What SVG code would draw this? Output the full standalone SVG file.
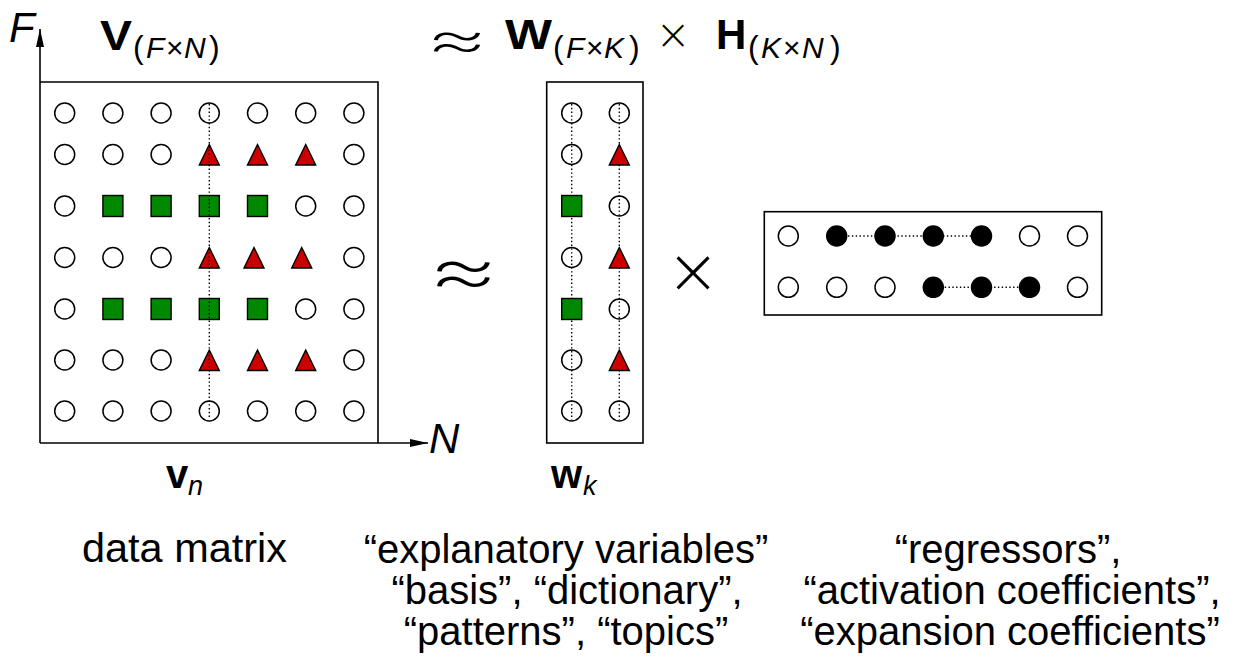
<svg xmlns="http://www.w3.org/2000/svg" xmlns:xlink="http://www.w3.org/1999/xlink" width="1241" height="659" viewBox="0 0 1241 659">
<style>
  .frame { fill: none; stroke: #000; stroke-width: 1.6; }
  .axis { fill: none; stroke: #000; stroke-width: 1.6; }
  .dot { fill: none; stroke: #000; stroke-width: 1.4; stroke-dasharray: 1.4 2.4; }
  .oc { fill: none; stroke: #000; stroke-width: 1.5; }
  .fc { fill: #000; stroke: #000; stroke-width: 1.5; }
  .sq { fill: #008800; stroke: #000; stroke-width: 1.4; }
  .tr { fill: #cc0000; stroke: #000; stroke-width: 1.4; stroke-linejoin: miter; }
  .t { font-family: "Liberation Sans", Arial, sans-serif; fill: #000; }
  .big { font-size: 40px; }
  .bold { font-weight: bold; font-size: 42px; }
  .sub { font-size: 30px; }
  .par { font-size: 32px; }
  .it { font-style: italic; }
  .sym { font-family: "DejaVu Sans ExtraLight", "DejaVu Sans Light", "DejaVu Sans", sans-serif; font-weight: 200; fill: #000; }
  .approx { font-family: Inter, Roboto, "Open Sans", "Liberation Sans", sans-serif; font-weight: 200; fill: #000; }
</style>
<defs>
  <circle id="c" r="10" class="oc"/>
  <circle id="f" r="10" class="fc"/>
  <rect id="s" x="-10" y="-10.5" width="20" height="21" class="sq"/>
  <polygon id="t" points="0,-10 10,10.5 -10,10.5" class="tr"/>
  <marker id="ah" viewBox="0 0 18 8" refX="18" refY="4" markerWidth="18" markerHeight="8" markerUnits="userSpaceOnUse" orient="auto">
    <path d="M0,0 L18,4 L0,8 Z" fill="#000"/>
  </marker>
</defs>

<g id="connectors">
  <line class="axis" x1="40" y1="443" x2="40" y2="29" marker-end="url(#ah)"/>
  <line class="axis" x1="40" y1="443" x2="428" y2="443" marker-end="url(#ah)"/>
</g>

<g id="matrix-V">
  <polyline class="frame" points="40,82 378,82 378,443"/>
  <use xlink:href="#c" x="64.7" y="113"/><use xlink:href="#c" x="112.9" y="113"/><use xlink:href="#c" x="161.1" y="113"/><use xlink:href="#c" x="209.3" y="113"/><use xlink:href="#c" x="257.5" y="113"/><use xlink:href="#c" x="305.7" y="113"/><use xlink:href="#c" x="353.9" y="113"/>
  <use xlink:href="#c" x="64.7" y="154.5"/><use xlink:href="#c" x="112.9" y="154.5"/><use xlink:href="#c" x="161.1" y="154.5"/><use xlink:href="#t" x="209.3" y="154.5"/><use xlink:href="#t" x="257.5" y="154.5"/><use xlink:href="#t" x="305.7" y="154.5"/><use xlink:href="#c" x="353.9" y="154.5"/>
  <use xlink:href="#c" x="64.7" y="206"/><use xlink:href="#s" x="112.9" y="206"/><use xlink:href="#s" x="161.1" y="206"/><use xlink:href="#s" x="209.3" y="206"/><use xlink:href="#s" x="257.5" y="206"/><use xlink:href="#c" x="305.7" y="206"/><use xlink:href="#c" x="353.9" y="206"/>
  <use xlink:href="#c" x="64.7" y="257.5"/><use xlink:href="#c" x="112.9" y="257.5"/><use xlink:href="#c" x="161.1" y="257.5"/><use xlink:href="#t" x="209.3" y="257.5"/><use xlink:href="#t" x="254" y="257.5"/><use xlink:href="#t" x="301.7" y="257.5"/><use xlink:href="#c" x="353.9" y="257.5"/>
  <use xlink:href="#c" x="64.7" y="309"/><use xlink:href="#s" x="112.9" y="309"/><use xlink:href="#s" x="161.1" y="309"/><use xlink:href="#s" x="209.3" y="309"/><use xlink:href="#s" x="257.5" y="309"/><use xlink:href="#c" x="305.7" y="309"/><use xlink:href="#c" x="353.9" y="309"/>
  <use xlink:href="#c" x="64.7" y="360"/><use xlink:href="#c" x="112.9" y="360"/><use xlink:href="#c" x="161.1" y="360"/><use xlink:href="#t" x="209.3" y="360"/><use xlink:href="#t" x="257.5" y="360"/><use xlink:href="#t" x="305.7" y="360"/><use xlink:href="#c" x="353.9" y="360"/>
  <use xlink:href="#c" x="64.7" y="411"/><use xlink:href="#c" x="112.9" y="411"/><use xlink:href="#c" x="161.1" y="411"/><use xlink:href="#c" x="209.3" y="411"/><use xlink:href="#c" x="257.5" y="411"/><use xlink:href="#c" x="305.7" y="411"/><use xlink:href="#c" x="353.9" y="411"/>
  <line class="dot" x1="209.3" y1="104" x2="209.3" y2="419"/>
</g>

<g id="matrix-W">
  <rect class="frame" x="546.7" y="82" width="96.3" height="361"/>
  <line class="dot" x1="571.7" y1="104" x2="571.7" y2="420"/>
  <line class="dot" x1="619.3" y1="104" x2="619.3" y2="420"/>
  <use xlink:href="#c" x="571.7" y="113"/><use xlink:href="#c" x="571.7" y="154.5"/><use xlink:href="#s" x="571.7" y="206"/><use xlink:href="#c" x="571.7" y="257.5"/><use xlink:href="#s" x="571.7" y="309"/><use xlink:href="#c" x="571.7" y="360"/><use xlink:href="#c" x="571.7" y="411"/>
  <use xlink:href="#c" x="619.3" y="113"/><use xlink:href="#t" x="619.3" y="154.5"/><use xlink:href="#c" x="619.3" y="206"/><use xlink:href="#t" x="619.3" y="257.5"/><use xlink:href="#c" x="619.3" y="309"/><use xlink:href="#t" x="619.3" y="360"/><use xlink:href="#c" x="619.3" y="411"/>
</g>

<g id="matrix-H">
  <rect class="frame" x="764.3" y="211.7" width="337.4" height="103.3"/>
  <line class="dot" x1="836.7" y1="236" x2="981.5" y2="236"/>
  <line class="dot" x1="933.3" y1="287.3" x2="1029.5" y2="287.3"/>
  <use xlink:href="#c" x="788.3" y="236"/><use xlink:href="#f" x="836.7" y="236"/><use xlink:href="#f" x="885" y="236"/><use xlink:href="#f" x="933.3" y="236"/><use xlink:href="#f" x="981.5" y="236"/><use xlink:href="#c" x="1029.5" y="236"/><use xlink:href="#c" x="1077.5" y="236"/>
  <use xlink:href="#c" x="788.3" y="287.3"/><use xlink:href="#c" x="836.7" y="287.3"/><use xlink:href="#c" x="885" y="287.3"/><use xlink:href="#f" x="933.3" y="287.3"/><use xlink:href="#f" x="981.5" y="287.3"/><use xlink:href="#f" x="1029.5" y="287.3"/><use xlink:href="#c" x="1077.5" y="287.3"/>
</g>

<g id="operators">
  <text class="approx" x="427" y="297" font-size="80" textLength="73" lengthAdjust="spacingAndGlyphs">≈</text>
  <text class="sym" x="693" y="293" font-size="64" text-anchor="middle">×</text>
</g>

<g id="axis-labels">
  <text class="t it" x="9" y="42" font-size="42">F</text>
  <text class="t it" x="429" y="453" font-size="42">N</text>
</g>

<g id="title">
  <text class="t bold" x="100" y="50" textLength="32" lengthAdjust="spacingAndGlyphs">V</text>
  <text class="t" y="58"><tspan x="133" class="par">(</tspan><tspan x="146" class="sub it">F</tspan><tspan x="166" class="sub">×</tspan><tspan x="184" class="sub it">N</tspan><tspan x="209" class="par">)</tspan></text>
  <text class="approx" x="425" y="60" font-size="62" textLength="64" lengthAdjust="spacingAndGlyphs">≈</text>
  <text class="t bold" x="505" y="49" textLength="47" lengthAdjust="spacingAndGlyphs">W</text>
  <text class="t" y="58"><tspan x="553" class="par">(</tspan><tspan x="566" class="sub it">F</tspan><tspan x="586" class="sub">×</tspan><tspan x="604" class="sub it">K</tspan><tspan x="629" class="par">)</tspan></text>
  <text class="sym" x="673" y="49" font-size="42" text-anchor="middle">×</text>
  <text class="t bold" x="716" y="49">H</text>
  <text class="t" y="58"><tspan x="748" class="par">(</tspan><tspan x="761" class="sub it">K</tspan><tspan x="783" class="sub">×</tspan><tspan x="802" class="sub it">N</tspan><tspan x="830" class="par">)</tspan></text>
</g>

<g id="vector-labels">
  <text class="t" y="488"><tspan x="166" font-weight="bold" font-size="40">v</tspan><tspan x="188" dy="7" class="it" font-size="27">n</tspan></text>
  <text class="t" y="488"><tspan x="551" font-weight="bold" font-size="40">w</tspan><tspan x="583" dy="7" class="it" font-size="27">k</tspan></text>
</g>

<g id="captions">
  <text class="t big" x="82" y="562" textLength="205" lengthAdjust="spacingAndGlyphs">data matrix</text>
  <text class="t big" x="566" y="563" text-anchor="middle">“explanatory variables”</text>
  <text class="t big" x="567" y="604" text-anchor="middle">“basis”, “dictionary”,</text>
  <text class="t big" x="566" y="645" text-anchor="middle">“patterns”, “topics”</text>
  <text class="t big" x="1008" y="563" text-anchor="middle">“regressors”,</text>
  <text class="t big" x="1012" y="604" text-anchor="middle">“activation coefficients”,</text>
  <text class="t big" x="1010" y="645" text-anchor="middle">“expansion coefficients”</text>
</g>
</svg>
